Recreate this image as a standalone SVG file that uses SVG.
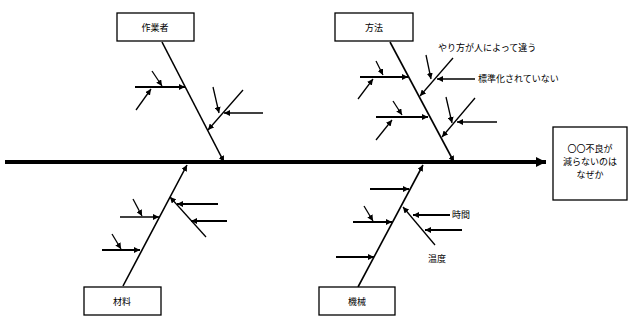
<svg xmlns="http://www.w3.org/2000/svg" width="632" height="320" viewBox="0 0 632 320">
<defs>
<marker id="ah" viewBox="0 0 10 10" refX="10" refY="5" markerWidth="6" markerHeight="6" markerUnits="userSpaceOnUse" orient="auto"><path d="M0,0 L10,5 L0,10 z" fill="#000"/></marker>
<marker id="ahb" viewBox="0 0 10 10" refX="10" refY="5" markerWidth="10" markerHeight="10" markerUnits="userSpaceOnUse" orient="auto"><path d="M0,0 L10,5 L0,10 z" fill="#000"/></marker>
<style>
.box{fill:#fff;stroke:#000;stroke-width:1.3}
.t{font-family:"Noto Sans CJK JP","Noto Sans",sans-serif;font-size:9px;fill:#000}
.tc{text-anchor:middle}
.spine{stroke:#000;stroke-width:4;fill:none}
.bone{stroke:#000;stroke-width:1.6;fill:none;marker-end:url(#ah)}
.sub{stroke:#000;stroke-width:2;fill:none;marker-end:url(#ah)}
.thin{stroke:#000;stroke-width:1.3;fill:none;marker-end:url(#ah)}
</style>
</defs>
<rect width="632" height="320" fill="#fff"/>
<g id="connectors">
<line class="spine" x1="5" y1="162" x2="546" y2="162" marker-end="url(#ahb)"/>
<line class="bone" x1="162" y1="42" x2="224" y2="162"/>
<line class="sub" x1="135" y1="87" x2="185" y2="87"/>
<line class="thin" x1="152" y1="71" x2="162" y2="86"/>
<line class="thin" x1="136" y1="110" x2="151" y2="89"/>
<line class="thin" x1="243" y1="90" x2="208" y2="130"/>
<line class="thin" x1="263" y1="113" x2="224" y2="113"/>
<line class="thin" x1="213" y1="87" x2="219" y2="113"/>
<line class="bone" x1="390" y1="42" x2="454" y2="162"/>
<line class="sub" x1="360" y1="77" x2="408" y2="77"/>
<line class="thin" x1="376" y1="61" x2="383" y2="75"/>
<line class="thin" x1="358" y1="99" x2="373" y2="79"/>
<line class="sub" x1="376" y1="117" x2="428" y2="117"/>
<line class="thin" x1="393" y1="101" x2="402" y2="115"/>
<line class="thin" x1="376" y1="140" x2="392" y2="120"/>
<line class="thin" x1="453" y1="58" x2="420" y2="96"/>
<line class="thin" x1="475" y1="79" x2="437" y2="79"/>
<line class="thin" x1="426" y1="55" x2="431" y2="79"/>
<line class="thin" x1="475" y1="98" x2="442" y2="137"/>
<line class="thin" x1="497" y1="122" x2="457" y2="122"/>
<line class="thin" x1="446" y1="97" x2="452" y2="123"/>
<line class="bone" x1="123" y1="286" x2="187" y2="165"/>
<line class="thin" x1="120" y1="217" x2="159" y2="217"/>
<line class="thin" x1="133" y1="199" x2="142" y2="216"/>
<line class="sub" x1="102" y1="250" x2="140" y2="250"/>
<line class="thin" x1="112" y1="234" x2="121" y2="249"/>
<line class="thin" x1="206" y1="237" x2="170" y2="197"/>
<line class="sub" x1="218" y1="204" x2="177" y2="204"/>
<line class="sub" x1="227" y1="221" x2="191" y2="221"/>
<line class="bone" x1="358" y1="287" x2="423" y2="165"/>
<line class="sub" x1="370" y1="189" x2="409" y2="189"/>
<line class="sub" x1="353" y1="222" x2="392" y2="222"/>
<line class="thin" x1="364" y1="206" x2="373" y2="221"/>
<line class="sub" x1="336" y1="257" x2="374" y2="257"/>
<line class="thin" x1="435" y1="245" x2="403" y2="207"/>
<line class="sub" x1="450" y1="215" x2="413" y2="215"/>
<line class="sub" x1="462" y1="230" x2="425" y2="230"/>
</g>
<g id="effect">
<rect class="box" x="553" y="127" width="74" height="73"/>
<text class="t tc" x="590" y="152">〇〇不良が</text>
<text class="t tc" x="590" y="165">減らないのは</text>
<text class="t tc" x="590" y="178">なぜか</text>
</g>
<g id="worker">
<rect class="box" x="117" y="13" width="77" height="28"/>
<text class="t tc" x="155" y="31" font-size="10">作業者</text>
</g>
<g id="method">
<rect class="box" x="335" y="13" width="78" height="28"/>
<text class="t tc" x="374" y="31" font-size="10">方法</text>
</g>
<g id="material">
<rect class="box" x="84" y="287" width="77" height="28"/>
<text class="t tc" x="122" y="305" font-size="10">材料</text>
</g>
<g id="machine">
<rect class="box" x="319" y="287" width="76" height="28"/>
<text class="t tc" x="357" y="305" font-size="10">機械</text>
</g>
<g id="labels">
<text class="t" x="438" y="51" font-size="8">やり方が人によって違う</text>
<text class="t" x="478" y="82">標準化されていない</text>
<text class="t" x="452" y="218" font-size="8">時間</text>
<text class="t" x="428" y="262" font-size="8">温度</text>
</g>
</svg>
